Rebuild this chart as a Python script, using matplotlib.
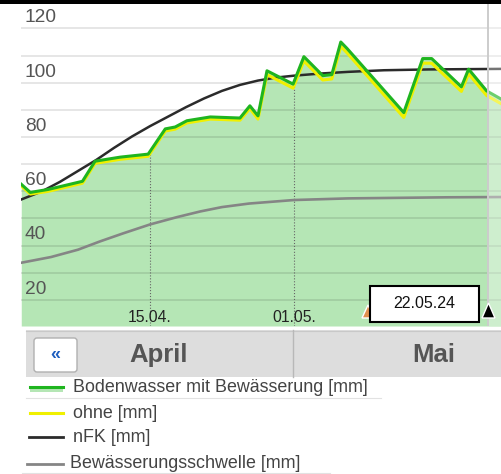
import numpy as np
import matplotlib.pyplot as plt
from matplotlib.patches import Rectangle, FancyBboxPatch, Polygon

plt.rcParams['font.family'] = ['Liberation Sans', 'DejaVu Sans']

# days counted from 01.04.
soil_days = [-0.3, 0.7, 2.7, 6.5, 7.9, 10.7, 13.8, 15.7, 16.8, 18.1, 20.7, 24.0, 25.1, 26.0,
             27.0, 29.9, 31.1, 33.2, 34.2, 35.2, 35.9, 42.2, 44.3, 45.3, 48.6, 49.4, 51.4, 53.0]
soil_with = [62.6, 59.6, 60.7, 63.7, 71.1, 72.6, 73.7, 83.0, 83.7, 86.0, 87.4, 87.0, 91.5, 87.8,
             104.4, 99.5, 109.6, 102.6, 103.0, 115.0, 112.6, 89.0, 108.9, 108.9, 98.5, 105.0, 97.0, 94.0]
soil_without = [62.0, 59.0, 60.0, 63.0, 70.3, 71.8, 72.9, 82.2, 82.9, 85.2, 86.6, 86.2, 90.5, 86.6,
                103.0, 98.0, 108.0, 101.0, 101.4, 113.4, 111.0, 87.2, 107.2, 107.2, 96.8, 103.3, 95.3, 92.3]

nfk_days = [-0.3, 2, 4, 6, 8, 10, 12, 14, 16, 18, 20, 22, 24, 26, 28, 30, 33, 36, 40, 45, 53]
nfk = [57.0, 60.0, 63.5, 67.5, 71.5, 76.0, 80.2, 84.0, 87.5, 91.0, 94.2, 97.0, 99.2, 100.8,
       101.9, 102.6, 103.4, 104.0, 104.6, 104.9, 105.1]

thr_days = [-0.3, 3, 6, 8.4, 11, 14, 17, 19.6, 22, 25, 30, 36, 47, 53]
threshold = [33.7, 35.8, 38.5, 41.5, 44.5, 47.8, 50.5, 52.6, 54.2, 55.5, 56.8, 57.4, 57.8, 57.9]

y_ticks = [20, 40, 60, 80, 100, 120]
date_ticks = [14, 30]
date_labels = ['15.04.', '01.05.']
today = 51.6
today_label = '22.05.24'
months = ['April', 'Mai']
legend_labels = ['Bodenwasser mit Bewässerung [mm]', 'ohne [mm]', 'nFK [mm]',
                 'Bewässerungsschwelle [mm]']

W, H = 501, 474
fig = plt.figure(figsize=(W / 100, H / 100), dpi=100)
fig.patch.set_facecolor('white')

ax = fig.add_axes([21 / W, (H - 326) / H, 480 / W, 322 / H])
ymin, ymax = 10.4, 129.0
ax.set_xlim(-0.33, 53.0)
ax.set_ylim(ymin, ymax)
ax.set_axis_off()

ax.fill_between(soil_days, ymin, soil_with, color='#b5e6b5', lw=0, zorder=1)
for v in range(20, 130, 10):
    ax.axhline(v, color='black', alpha=0.13, lw=1.1, zorder=2)

# dotted date lines under the curve
for d in date_ticks:
    top = np.interp(d, soil_days, soil_with)
    ax.plot([d, d], [ymin, top], color='#666666', ls=':', lw=0.8, zorder=3)

ax.plot(thr_days, threshold, color='#858585', lw=1.9, zorder=4)
ax.plot(nfk_days, nfk, color='#2b2b2b', lw=1.8, zorder=5)
ax.plot(soil_days, soil_without, color='#f0f000', lw=2.2, zorder=6)
ax.plot(soil_days, soil_with, color='#1fb51f', lw=2.2, zorder=7)

# forecast part is lighter
ax.axvspan(today, 53.0, color='white', alpha=0.35, lw=0, zorder=8)
ax.axvline(today, color='#cccccc', lw=1.4, zorder=9)

for v in y_ticks:
    ax.text(0.008, v + 0.8, str(v), transform=ax.get_yaxis_transform(), ha='left', va='bottom',
            fontsize=13.8, color='#555555', zorder=10)
for d, lab in zip(date_ticks, date_labels):
    ax.text(d, 0.026, lab, transform=ax.get_xaxis_transform(), ha='center', va='center',
            fontsize=11.3, color='#222222', zorder=10)

# overlay in pixel coordinates for the page decorations
ov = fig.add_axes([0, 0, 1, 1])
ov.set_xlim(0, W)
ov.set_ylim(H, 0)
ov.set_axis_off()

ov.add_patch(Rectangle((0, 0), W, 3.5, color='black', lw=0))

# date box and markers
ov.add_patch(Polygon([[362, 318], [368, 305], [374, 318]], closed=True, fc='#e09050', ec='white', lw=1))
ov.add_patch(Rectangle((370, 286), 109, 36, fc='white', ec='black', lw=1.5, zorder=5))
ov.text(424.5, 304, today_label, ha='center', va='center', fontsize=11.5, color='#111111', zorder=6)
ov.add_patch(Polygon([[482, 318], [488.5, 303], [495, 318]], closed=True, fc='black', ec='white', lw=1))

# month bar
ov.add_patch(Rectangle((26, 330), W - 26, 47, fc='#dddddd', ec='none'))
ov.plot([26, W], [330.5, 330.5], color='#c8c8c8', lw=0.8)
ov.plot([293, 293], [330, 377], color='#b8b8b8', lw=1)
ov.add_patch(FancyBboxPatch((34, 338), 43, 34, boxstyle='round,pad=0,rounding_size=3',
                            fc='white', ec='#b0b0b0', lw=1))
ov.text(55.5, 355, '«', ha='center', va='center', fontsize=13, color='#1f5fbf', fontweight='bold')
ov.text(159, 355, months[0], ha='center', va='center', fontsize=18.5, color='#555555', fontweight='bold')
ov.text(434, 355, months[1], ha='center', va='center', fontsize=18.5, color='#555555', fontweight='bold')

# legend
row_y = [387, 413, 437, 464]
ov.add_patch(Rectangle((30, 387), 33, 5, fc='#b5e6b5', ec='none'))
ov.plot([30, 63], [387, 387], color='#1fb51f', lw=2.2)
ov.plot([30, 63], [413, 413], color='#f0f000', lw=2.2)
ov.plot([29, 63], [437, 437], color='#2b2b2b', lw=2)
ov.plot([27, 63], [464, 464], color='#858585', lw=2)
text_x = [73, 73, 73, 70]
for x, y, lab in zip(text_x, row_y, legend_labels):
    ov.text(x, y, lab, ha='left', va='center', fontsize=12.9, color='#444444')
ov.plot([26, 381], [398, 398], color='#e2e2e2', lw=0.8)
ov.plot([22, 330], [473, 473], color='#e2e2e2', lw=0.8)

fig.savefig('out.png', dpi=100)
